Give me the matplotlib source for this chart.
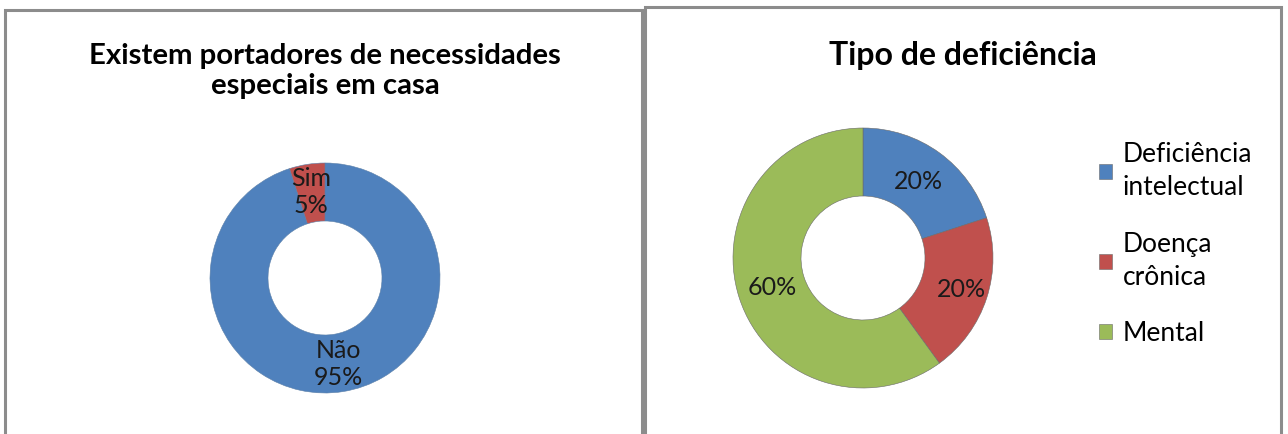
import numpy as np
import matplotlib
matplotlib.use("Agg")
import matplotlib.pyplot as plt
from matplotlib.patches import Rectangle

plt.rcParams['font.family'] = ['Lato', 'DejaVu Sans']

# data
casa_labels = ['Não', 'Sim']
casa_values = [95, 5]
tipo_labels = ['Deficiência\nintelectual', 'Doença\ncrônica', 'Mental']
tipo_values = [20, 20, 60]

blue = '#4F81BD'
red = '#C0504D'
green = '#9BBB59'

W, H = 1288, 434
fig = plt.figure(figsize=(W / 100, H / 100), dpi=100)
fig.patch.set_facecolor('white')

# panel borders (in pixels)
def box(x0, y0, x1, y1):
    fig.add_artist(Rectangle((x0 / W, 1 - y1 / H), (x1 - x0) / W, (y1 - y0) / H,
                             transform=fig.transFigure, fill=False,
                             edgecolor='#8c8c8c', linewidth=2.2))

box(5, 10, 642, 460)
box(645, 7, 1281, 460)


def donut_axes(cx, cy, size=300):
    ax = fig.add_axes([(cx - size / 2) / W, (H - cy - size / 2) / H, size / W, size / H])
    return ax


def fix_limits(ax):
    ax.set_xlim(-1.5, 1.5)
    ax.set_ylim(-1.5, 1.5)
    ax.set_aspect('equal')
    ax.axis('off')


# left chart
ax1 = donut_axes(325, 278)
w1, _ = ax1.pie(casa_values, colors=[blue, red], startangle=90, counterclock=False,
                radius=1.15, wedgeprops=dict(width=0.58, edgecolor='#5a7fa8', linewidth=0.4))
fix_limits(ax1)
for w, lab, v in zip(w1, casa_labels, casa_values):
    mid = np.deg2rad((w.theta1 + w.theta2) / 2)
    r = 0.87
    ax1.text(r * np.cos(mid), r * np.sin(mid), f'{lab}\n{v}%', ha='center', va='center',
             fontsize=18, color='#1a1a1a', linespacing=1.25)
fig.text(325 / W, 1 - 71 / H, 'Existem portadores de necessidades\nespeciais em casa',
         ha='center', va='center', fontsize=21.2, fontweight='bold', linespacing=1.2)

# right chart
ax2 = donut_axes(863, 258)
w2, _ = ax2.pie(tipo_values, colors=[blue, red, green], startangle=90, counterclock=False,
                radius=1.30, wedgeprops=dict(width=0.68, edgecolor='#6a6a6a', linewidth=0.4))
fix_limits(ax2)
for i, (w, v) in enumerate(zip(w2, tipo_values)):
    mid = np.deg2rad((w.theta1 + w.theta2) / 2)
    r = 1.03 if i == 1 else 0.95
    ax2.text(r * np.cos(mid), r * np.sin(mid), f'{v}%', ha='center', va='center',
             fontsize=18, color='#1a1a1a')
fig.text(963 / W, 1 - 55 / H, 'Tipo de deficiência', ha='center', va='center',
         fontsize=23, fontweight='bold')

leg = fig.legend(w2, tipo_labels, loc='upper left', bbox_to_anchor=(1099 / W, 1 - 142 / H),
                 frameon=False, fontsize=19, handlelength=0.5, handleheight=0.5,
                 handletextpad=0.4, labelspacing=1.2, borderaxespad=0, borderpad=0)
for t in leg.get_texts():
    t.set_linespacing(1.4)

fig.savefig('out.png', dpi=100, facecolor='white')
